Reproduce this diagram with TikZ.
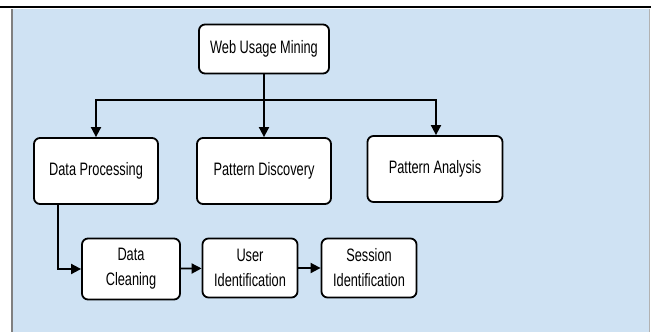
\documentclass[tikz,border=0pt]{standalone}
\usepackage{fontspec}
\setmainfont{Liberation Sans}[FakeStretch=0.71]
\usetikzlibrary{arrows.meta}
\definecolor{paneblue}{RGB}{207,226,243}
\tikzset{
  stage/.style = {draw, line width = 1.8pt, rounded corners = 6pt, fill = white,
                  align = center, font = \fontsize{18}{25}\selectfont, inner sep = 0pt},
  link/.style  = {line width = 1.8pt},
  flow/.style  = {line width = 1.8pt, -{Triangle[length = 10pt, width = 10pt]}}
}

\begin{document}
\begin{tikzpicture}[x = 1pt, y = -1pt]
\useasboundingbox (0,0) rectangle (651,332);
\fill [paneblue] (12,9) rectangle (649,332);
\draw [gray, line width = 1.2pt] (12,9) -- (12,332);
\draw [gray!60, line width = 1pt] (649,9) -- (649,332);
\draw [line width = 2.6pt] (0,7) -- (651,7);

\node [stage, minimum width = 130pt, minimum height = 49pt] (wum) at (264,49) {Web Usage Mining};

\node [stage, minimum width = 124pt, minimum height = 66pt] (dp) at (96,171) {Data Processing};
\node [stage, minimum width = 134pt, minimum height = 66pt] (pd) at (264,171) {Pattern Discovery};
\node [stage, minimum width = 135pt, minimum height = 66pt] (pa) at (435,169) {Pattern Analysis};

\node [stage, minimum width = 98pt, minimum height = 61pt] (dc) at (131,269) {Data\\Cleaning};
\node [stage, minimum width = 95pt, minimum height = 59pt] (ui) at (250,268) {User\\Identification};
\node [stage, minimum width = 95pt, minimum height = 59pt] (si) at (369,268) {Session\\Identification};

\coordinate (jl) at (96,100);
\coordinate (jc) at (264,100);
\coordinate (jr) at (436,100);
\coordinate (dpb) at (58,204);

\draw [link] (wum.south) -- (jc);
\draw [link] ([xshift = -0.9pt]jl) -- ([xshift = 0.9pt]jr);
\draw [flow] (jl) -- (dp.north);
\draw [flow] (jc) -- (pd.north);
\draw [flow] (jr) -- (jr |- pa.north);
\draw [flow] (dpb) |- (dc.west);
\draw [flow] (dc) -- (ui);
\draw [flow] (ui) -- (si);
\end{tikzpicture}
\end{document}
